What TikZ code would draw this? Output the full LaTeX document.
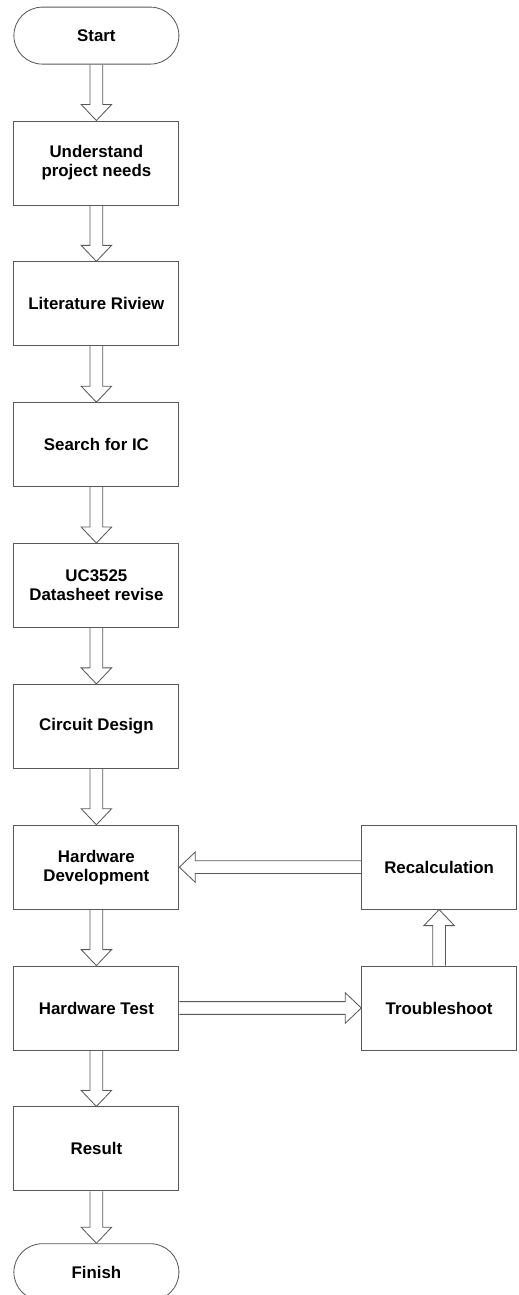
\documentclass[tikz,border=0pt]{standalone}
\usepackage{fontspec}
\setmainfont{Liberation Sans}
\usetikzlibrary{positioning,calc,shapes.misc}

% hollow block arrow from #1 to #2
\newcommand{\blockarrow}[2]{%
  \coordinate (ba-h) at ($(#2)!0.4cm!(#1)$);
  \draw[flowarrow] ($(#1)!0.16cm!90:(#2)$) -- ($(ba-h)!0.16cm!90:(#2)$)
    -- ($(ba-h)!0.38cm!90:(#2)$) -- (#2) -- ($(ba-h)!0.38cm!-90:(#2)$)
    -- ($(ba-h)!0.16cm!-90:(#2)$) -- ($(#1)!0.16cm!-90:(#2)$);
}

\begin{document}
\begin{tikzpicture}[
    font=\fontsize{12}{13.5}\selectfont\bfseries,
    stepbox/.style={draw=black!65, line width=0.6pt, minimum width=4.125cm,
      minimum height=2.1cm, inner sep=2pt, align=center},
    sidebox/.style={stepbox, minimum width=3.87cm},
    termbox/.style={draw=black!65, line width=0.6pt, rounded rectangle,
      minimum width=4.36cm, minimum height=1.425cm},
    flowarrow/.style={draw=black!65, line width=0.6pt, line join=miter},
    node distance=1.4cm
]
    \useasboundingbox (0,0) rectangle (12.95,-32.375);

    % main column
    \node[termbox] (start) at (2.41,-0.89) {Start};
    \node[stepbox, below=of start] (needs) {Understand\\project needs};
    \node[stepbox, below=of needs] (lit) {Literature Riview};
    \node[stepbox, below=of lit] (search) {Search for IC};
    \node[stepbox, below=of search] (sheet) {UC3525\\Datasheet revise};
    \node[stepbox, below=of sheet] (design) {Circuit Design};
    \node[stepbox, below=of design] (hwdev) {Hardware\\Development};
    \node[stepbox, below=of hwdev] (hwtest) {Hardware Test};
    \node[stepbox, below=of hwtest] (result) {Result};
    \node[termbox, below=1.3cm of result] (finish) {Finish};

    % side loop
    \node[sidebox, right=4.55cm of hwdev] (recalc) {Recalculation};
    \node[sidebox, right=4.55cm of hwtest] (trouble) {Troubleshoot};

    % arrows
    \blockarrow{start.south}{needs.north}
    \blockarrow{needs.south}{lit.north}
    \blockarrow{lit.south}{search.north}
    \blockarrow{search.south}{sheet.north}
    \blockarrow{sheet.south}{design.north}
    \blockarrow{design.south}{hwdev.north}
    \blockarrow{hwdev.south}{hwtest.north}
    \blockarrow{hwtest.south}{result.north}
    \blockarrow{result.south}{finish.north}
    \blockarrow{hwtest.east}{trouble.west}
    \blockarrow{trouble.north}{recalc.south}
    \blockarrow{recalc.west}{hwdev.east}
\end{tikzpicture}
\end{document}
